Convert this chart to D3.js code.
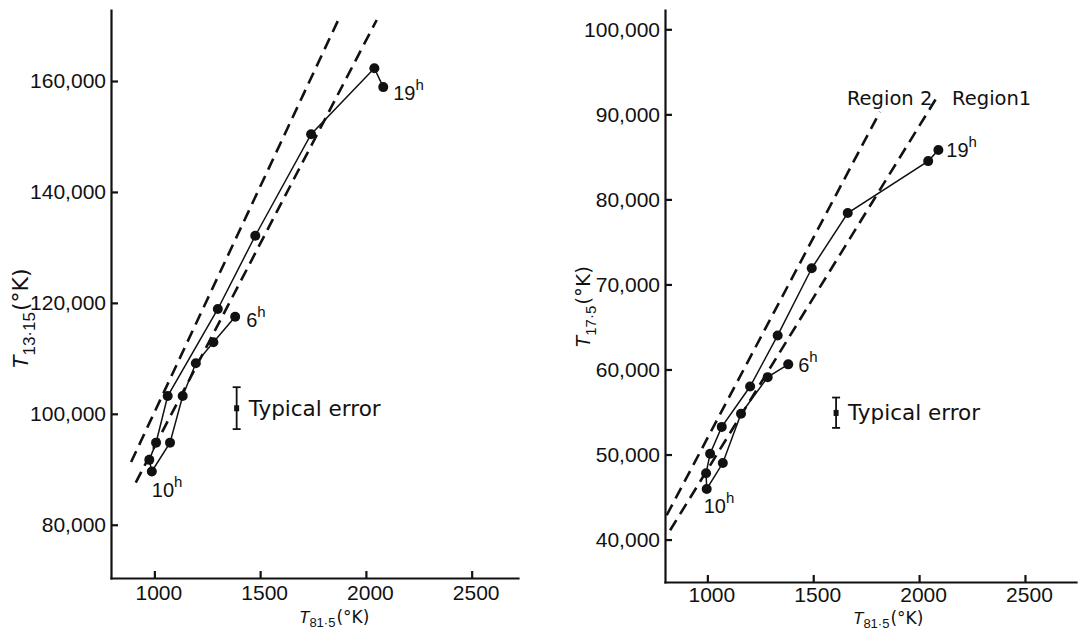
<!DOCTYPE html>
<html>
<head>
<meta charset="utf-8">
<script src="https://cdn.jsdelivr.net/npm/d3@7"></script>
<style>
    body { margin: 0; background: #fff; }
    svg { display: block; }
    .axis path, .axis line { stroke: #111; stroke-width: 2.2; }
    .axis text { font-family: "Liberation Sans Narrow", "Liberation Sans", sans-serif; font-size: 21px; fill: #111; }
    .word { font-family: "DejaVu Sans", sans-serif; fill: #111; }
    .num { font-family: "Liberation Sans Narrow", "Liberation Sans", sans-serif; fill: #111; }
</style>
</head>
<body>
<svg id="chart" width="1079" height="632"></svg>
<script>
/**
 * Data.
 */
const xTicks = [1000, 1500, 2000, 2500];
const leftYTicks = [80000, 100000, 120000, 140000, 160000];
const rightYTicks = [40000, 50000, 60000, 70000, 80000, 90000, 100000];

// Left panel: T81.5 vs T13.15, from 6h through 10h to 19h
const leftT815 = [1382, 1279, 1196, 1134, 1074, 988, 976, 1008, 1063, 1300, 1477, 1741, 2040, 2082];
const leftT1315 = [117500, 112900, 109100, 103200, 94800, 89600, 91700, 94800, 103200, 118900, 132100, 150400, 162300, 158900];

// Right panel: T81.5 vs T17.5
const rightT815 = [1382, 1285, 1159, 1073, 997, 994, 1013, 1068, 1202, 1332, 1493, 1663, 2043, 2091];
const rightT175 = [60600, 59100, 54800, 49000, 45950, 47800, 50100, 53250, 58000, 64000, 71900, 78400, 84500, 85800];

const hourLabels = ['6', '10', '19'];
const leftHourIndex = [0, 5, 13];
const rightHourIndex = [0, 4, 13];

// Dashed boundary lines, [[x0, y0], [x1, y1]]
const leftBounds = [[[890, 91300], [1873, 171300]], [[912, 87600], [2051, 171000]]];
const rightBounds = [[[808, 42860], [1815, 90300]], [[824, 41090], [2085, 92040]]];
const rightBoundNames = ['Region 2', 'Region1'];

// Typical error bars: [x, low, mid, high]
const leftError = [1389, 97240, 101000, 104800];
const rightError = [1608, 53130, 54890, 56700];

const svg = d3.select('#chart');

/**
 * Visual configs per panel.
 */
const panels = [
    {
        xDomain: [795, 2719], xRange: [111, 518],
        yDomain: [70400, 172800], yRange: [578, 10],
        yTicks: leftYTicks, xs: leftT815, ys: leftT1315,
        bounds: leftBounds, error: leftError, hourIndex: leftHourIndex,
        hourOffsets: [[11, 10], [0, 25], [10, 13]],
        xTitle: { x: 299, y: 623, sub: '81·5', size: 17, subSize: 13, shift: 4 },
        yTitle: { x: 28, y: 369, sub: '13·15', size: 22, subSize: 17, shift: 7 },
        xPad: 7
    },
    {
        xDomain: [800, 2741], xRange: [665, 1076],
        yDomain: [35010, 102270], yRange: [582, 10],
        yTicks: rightYTicks, xs: rightT815, ys: rightT175,
        bounds: rightBounds, error: rightError, boundNames: rightBoundNames,
        hourIndex: rightHourIndex,
        hourOffsets: [[10, 8], [-3, 24], [8, 7]],
        xTitle: { x: 853, y: 624, sub: '81·5', size: 17, subSize: 13, shift: 4 },
        yTitle: { x: 590, y: 348, sub: '17·5', size: 20, subSize: 15, shift: 6 },
        xPad: 5
    }
];

panels.forEach(drawPanel);

function drawPanel(p) {
    const x = d3.scaleLinear().domain(p.xDomain).range(p.xRange),
        y = d3.scaleLinear().domain(p.yDomain).range(p.yRange);
    const g = svg.append('g');

    // Axes, ticks pointing inward
    g.append('g').attr('class', 'axis')
        .attr('transform', 'translate(0,' + p.yRange[0] + ')')
        .call(d3.axisBottom(x).tickValues(xTicks).tickFormat(d3.format('d'))
            .tickSizeInner(-7).tickSizeOuter(0).tickPadding(p.xPad))
        .selectAll('text').attr('dx', 4);

    g.append('g').attr('class', 'axis')
        .attr('transform', 'translate(' + p.xRange[0] + ',0)')
        .call(d3.axisLeft(y).tickValues(p.yTicks).tickFormat(d3.format(','))
            .tickSizeInner(-7).tickSizeOuter(0).tickPadding(5));

    g.selectAll('.axis .domain').attr('stroke-linecap', 'square');

    // Dashed boundaries
    const line = d3.line().x(d => x(d[0])).y(d => y(d[1]));
    g.selectAll('.bound').data(p.bounds).join('path')
        .attr('class', 'bound')
        .attr('d', line)
        .attr('fill', 'none').attr('stroke', '#111')
        .attr('stroke-width', 2.6).attr('stroke-dasharray', '12,7');

    if (p.boundNames) {
        const tops = p.bounds.map(b => b[1]);
        g.append('text').attr('class', 'word')
            .attr('x', x(tops[0][0]) - 33).attr('y', y(tops[0][1]) - 7)
            .attr('font-size', 19.5).text(p.boundNames[0]);
        g.append('text').attr('class', 'word')
            .attr('x', x(tops[1][0]) + 15).attr('y', y(tops[1][1]) + 8)
            .attr('font-size', 19.5).text(p.boundNames[1]);
    }

    // Trajectory
    const pts = p.xs.map((v, i) => [v, p.ys[i]]);
    g.append('path')
        .attr('d', line(pts))
        .attr('fill', 'none').attr('stroke', '#111').attr('stroke-width', 1.5);

    g.selectAll('.pt').data(pts).join('circle')
        .attr('class', 'pt')
        .attr('cx', d => x(d[0])).attr('cy', d => y(d[1]))
        .attr('r', 5).attr('fill', '#111');

    // Hour labels
    p.hourIndex.forEach((idx, k) => {
        const off = p.hourOffsets[k];
        const t = g.append('text').attr('class', 'num')
            .attr('x', x(pts[idx][0]) + off[0]).attr('y', y(pts[idx][1]) + off[1])
            .attr('font-size', 20);
        t.append('tspan').text(hourLabels[k]);
        t.append('tspan').attr('dy', -10).attr('font-size', 15).text('h');
    });

    // Typical error
    const e = p.error, ex = x(e[0]);
    g.append('line')
        .attr('x1', ex).attr('x2', ex).attr('y1', y(e[1])).attr('y2', y(e[3]))
        .attr('stroke', '#111').attr('stroke-width', 1.8);
    [e[1], e[3]].forEach(v => {
        g.append('line')
            .attr('x1', ex - 4).attr('x2', ex + 4).attr('y1', y(v)).attr('y2', y(v))
            .attr('stroke', '#111').attr('stroke-width', 1.8);
    });
    g.append('rect')
        .attr('x', ex - 2.5).attr('y', y(e[2]) - 3).attr('width', 5).attr('height', 6)
        .attr('fill', '#111');
    g.append('text').attr('class', 'word')
        .attr('x', ex + 12).attr('y', y(e[2])).attr('dy', '0.35em')
        .attr('font-size', 21.5).text('Typical error');

    // Axis titles
    axisTitle(g.append('text').attr('x', p.xTitle.x).attr('y', p.xTitle.y), p.xTitle);
    axisTitle(g.append('text')
        .attr('transform', 'translate(' + p.yTitle.x + ',' + p.yTitle.y + ') rotate(-90)'), p.yTitle);
}

function axisTitle(t, cfg) {
    t.attr('class', 'word').attr('font-size', cfg.size);
    t.append('tspan').attr('font-family', 'Liberation Sans').attr('font-style', 'italic').text('T');
    t.append('tspan').attr('class', 'num').attr('font-size', cfg.subSize).attr('dy', cfg.shift).text(cfg.sub);
    t.append('tspan').attr('dy', -cfg.shift).attr('dx', 1).text('(°K)');
}
</script>
</body>
</html>
